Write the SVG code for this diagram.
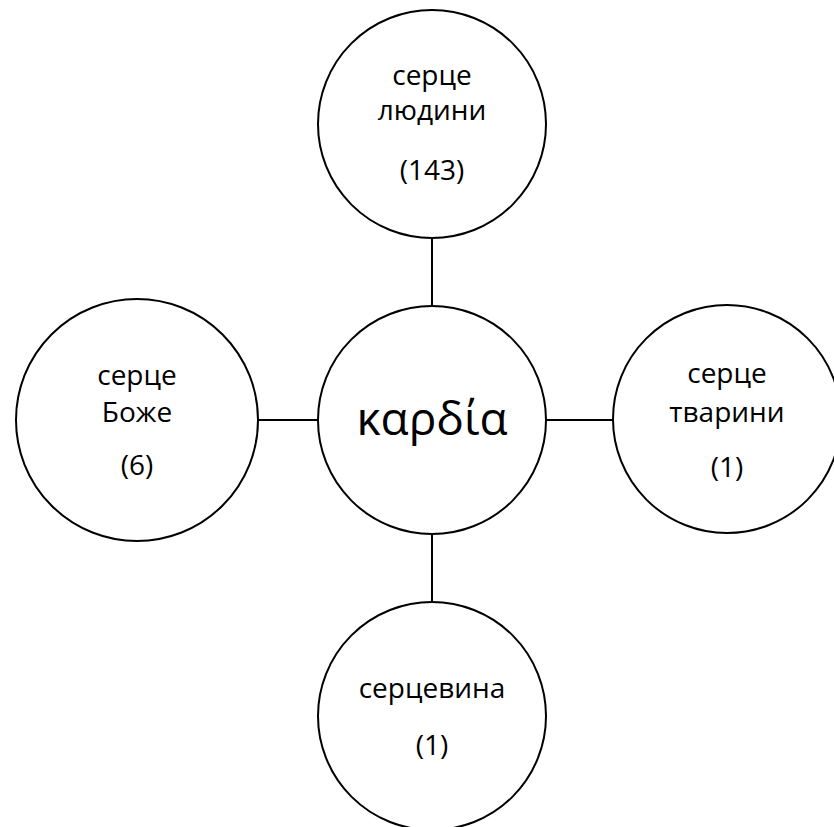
<svg xmlns="http://www.w3.org/2000/svg" width="834" height="827" viewBox="0 0 834 827">
<style>
.n{fill:#fff;stroke:#000;stroke-width:2}
.c{stroke:#000;stroke-width:2;fill:none}
text{font-family:"Open Sans","Noto Sans",sans-serif;font-size:28px;fill:#000;text-anchor:middle}
.big{font-size:46px}
</style>
<rect width="834" height="827" fill="#fff"/>
<g id="connectors">
<line class="c" x1="432" y1="238" x2="432" y2="306"/>
<line class="c" x1="258" y1="420" x2="318" y2="420"/>
<line class="c" x1="546" y1="420" x2="613" y2="420"/>
<line class="c" x1="432" y1="533" x2="432" y2="602"/>
</g>
<g id="center">
<circle class="n" cx="432" cy="420" r="114"/>
<text class="big" x="432" y="435">καρδία</text>
</g>
<g id="top">
<circle class="n" cx="432" cy="124" r="114"/>
<text x="432" y="85">серце</text>
<text x="432" y="120">людини</text>
<text x="432" y="180">(143)</text>
</g>
<g id="left">
<circle class="n" cx="137" cy="420" r="121"/>
<text x="137" y="385">серце</text>
<text x="137" y="422">Боже</text>
<text x="137" y="475">(6)</text>
</g>
<g id="right">
<circle class="n" cx="727" cy="419" r="114"/>
<text x="727" y="383">серце</text>
<text x="727" y="422">тварини</text>
<text x="727" y="477">(1)</text>
</g>
<g id="bottom">
<circle class="n" cx="432" cy="716" r="114"/>
<text x="432" y="698">серцевина</text>
<text x="432" y="755">(1)</text>
</g>
</svg>
